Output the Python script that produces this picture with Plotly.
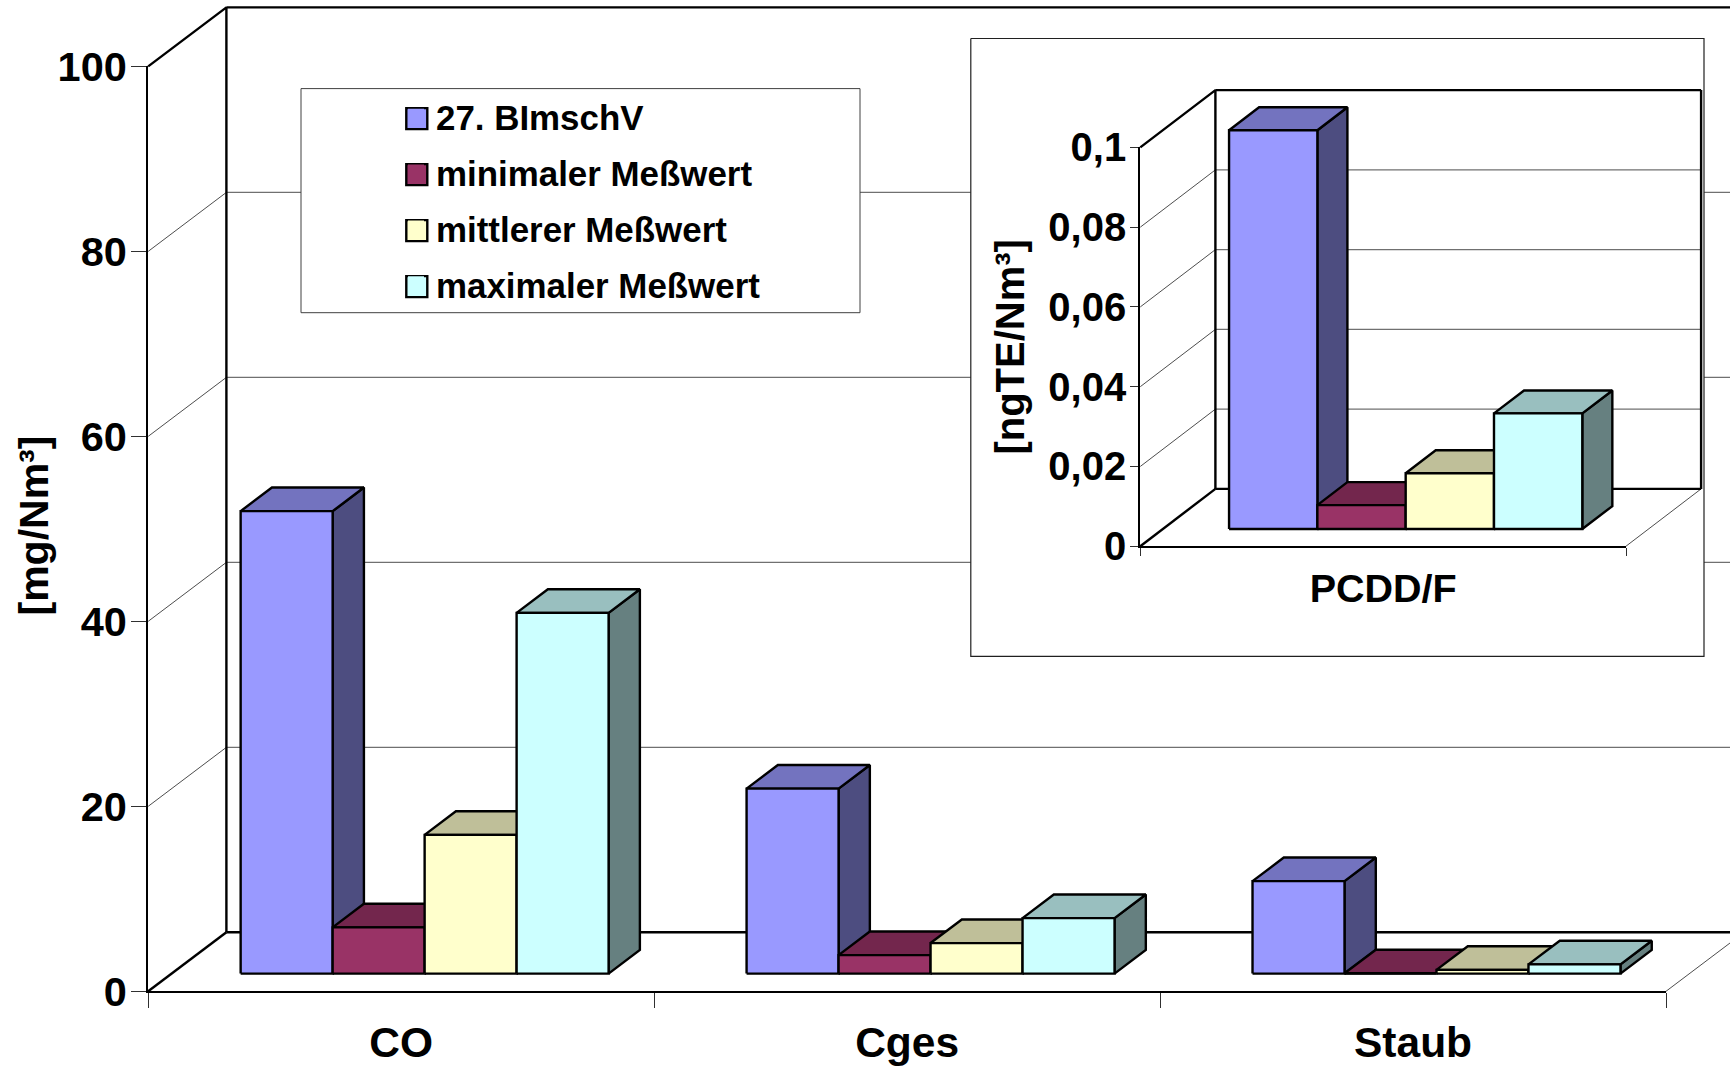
import plotly.graph_objects as go

# ---------- data ----------
categories = ["CO", "Cges", "Staub"]
series_names = ["27. BImschV", "minimaler Meßwert", "mittlerer Meßwert", "maximaler Meßwert"]
limit_values = [50, 20, 10]
min_values = [5, 2, 0.03]
mean_values = [15, 3.3, 0.4]
max_values = [39, 6, 1]
y_ticks = [0, 20, 40, 60, 80, 100]
y_title = "[mg/Nm³]"

inset_category = ["PCDD/F"]
inset_limit = [0.1]
inset_min = [0.006]
inset_mean = [0.014]
inset_max = [0.029]
inset_ticks = [0, 0.02, 0.04, 0.06, 0.08, 0.1]
inset_ticktext = ["0", "0,02", "0,04", "0,06", "0,08", "0,1"]
inset_y_title = "[ngTE/Nm³]"

front_colors = ["#9999FF", "#993366", "#FFFFCC", "#CCFFFF"]
top_colors = ["#7373BF", "#73264D", "#BFBF99", "#99BFBF"]
side_colors = ["#4D4D80", "#4D1A33", "#808066", "#668080"]

# ---------- layout geometry (pixels of the page) ----------
W, H = 1730, 1068
FONT = "Liberation Sans"
MAIN_X = (148.2, 1666.0)
MAIN_Y = (991.3, 66.4)
INS_X = (1140.3, 1626.0)
INS_Y = (546.2, 147.4)
GAP = 0.75          # gap each side of a group, in bar widths
DEPTH_START, DEPTH_LEN = 0.3, 0.4
main_sx, main_sy = (MAIN_X[1] - MAIN_X[0]) / 3, (MAIN_Y[0] - MAIN_Y[1]) / 100
ins_sx, ins_sy = (INS_X[1] - INS_X[0]) / 1, (INS_Y[0] - INS_Y[1]) / 0.1
main_dx, main_dy = 78.2 / main_sx, 59.0 / main_sy
ins_dx, ins_dy = 75.1 / ins_sx, 57.3 / ins_sy

fig = go.Figure()


def bar_traces(vals_by_series, dx, dy, xa, ya):
    """Oblique 3-D bars built from the values, in axis units."""
    n = len(vals_by_series)
    bw = 1 / (n + 2 * GAP)
    for s, vals in enumerate(vals_by_series):
        faces = {"side": ([], []), "top": ([], []), "front": ([], [])}
        for c, v in enumerate(vals):
            x0 = c + GAP * bw + s * bw + DEPTH_START * dx
            x1 = x0 + bw
            b = DEPTH_START * dy
            t = v + b
            ox, oy = DEPTH_LEN * dx, DEPTH_LEN * dy
            polys = {
                "front": ([x0, x1, x1, x0, x0], [b, b, t, t, b]),
                "top": ([x0, x1, x1 + ox, x0 + ox, x0], [t, t, t + oy, t + oy, t]),
                "side": ([x1, x1 + ox, x1 + ox, x1, x1], [b, b + oy, t + oy, t, b]),
            }
            for k, (px, py) in polys.items():
                faces[k][0].extend(px + [None])
                faces[k][1].extend(py + [None])
        cols = {"side": side_colors[s], "top": top_colors[s], "front": front_colors[s]}
        for k in ("side", "top", "front"):
            fig.add_trace(go.Scatter(
                x=faces[k][0], y=faces[k][1], mode="lines", fill="toself",
                fillcolor=cols[k], line=dict(color="black", width=2.4),
                xaxis=xa, yaxis=ya, hoverinfo="skip", showlegend=False))


def wall_traces(ticks, span, dx, dy, xa, ya, close_right):
    top = ticks[-1]
    gx, gy, hx, hy = [], [], [], []
    for v in ticks[1:-1]:
        gx += [0, dx, None]
        gy += [v, v + dy, None]
        hx += [dx, span + dx, None]
        hy += [v + dy, v + dy, None]
    gx += [span, span + dx, None]
    gy += [0, dy, None]
    fig.add_trace(go.Scatter(x=hx, y=hy, mode="lines", line=dict(color="#707070", width=1.2),
                             xaxis=xa, yaxis=ya, hoverinfo="skip", showlegend=False))
    fig.add_trace(go.Scatter(x=gx, y=gy, mode="lines", line=dict(color="#202020", width=0.8),
                             xaxis=xa, yaxis=ya, hoverinfo="skip", showlegend=False))
    ox = [0, dx, dx, None, dx, span + dx, None, 0, dx, None, dx, span + dx]
    oy = [top, top + dy, dy, None, top + dy, top + dy, None, 0, dy, None, dy, dy]
    if close_right:
        ox += [None, span + dx, span + dx]
        oy += [None, top + dy, dy]
    fig.add_trace(go.Scatter(x=ox, y=oy, mode="lines", line=dict(color="black", width=2.4),
                             xaxis=xa, yaxis=ya, hoverinfo="skip", showlegend=False))


def ins_xy(px, py):
    return ((px - INS_X[0]) / ins_sx, (INS_Y[0] - py) / ins_sy)


def box(x0, y0, x1, y1, color, width):
    a, b = ins_xy(x0, y0), ins_xy(x1, y1)
    fig.add_trace(go.Scatter(
        x=[a[0], b[0], b[0], a[0], a[0]], y=[a[1], a[1], b[1], b[1], a[1]],
        mode="lines", fill="toself", fillcolor="white", line=dict(color=color, width=width),
        xaxis="x3", yaxis="y3", hoverinfo="skip", showlegend=False))


# Subplot order sets the stacking:
#   x /y  = full-page drawing plane of the main chart (same scale as x2/y2)
#   x2/y2 = the visible main axes
#   x3/y3 = full-page drawing plane of the inset (same scale as x4/y4)
#   x4/y4 = the visible inset axes
for i, name in enumerate(series_names):
    fig.add_trace(go.Scatter(
        x=[None], y=[None], mode="markers", name=name, legendgroup=name,
        marker=dict(symbol="square", size=16, color=front_colors[i], line=dict(width=0)),
        xaxis="x", yaxis="y"))

wall_traces(y_ticks, 3, main_dx, main_dy, "x", "y", False)
bar_traces([limit_values, min_values, mean_values, max_values], main_dx, main_dy, "x", "y")
fig.add_trace(go.Scatter(x=[None], y=[None], xaxis="x2", yaxis="y2", showlegend=False, hoverinfo="skip"))

box(301, 88.6, 860, 312.7, "#404040", 1)          # legend frame
box(970.8, 38.5, 1704, 656.4, "#202020", 1.2)     # inset frame

# full-size legend swatches, under the smaller ones that the legend itself can draw
swatch = [ins_xy(416.8, 118.6 + 56 * i) for i in range(4)]
fig.add_trace(go.Scatter(
    x=[p[0] for p in swatch], y=[p[1] for p in swatch], mode="markers",
    marker=dict(symbol="square", size=21, color=front_colors, line=dict(color="black", width=2.4)),
    xaxis="x3", yaxis="y3", hoverinfo="skip", showlegend=False))

wall_traces(inset_ticks, 1, ins_dx, ins_dy, "x3", "y3", True)
bar_traces([inset_limit, inset_min, inset_mean, inset_max], ins_dx, ins_dy, "x3", "y3")
fig.add_trace(go.Scatter(x=[None], y=[None], xaxis="x4", yaxis="y4", showlegend=False, hoverinfo="skip"))

tick_font = dict(family=FONT, size=41.5, color="black", weight="bold")
cat_font = dict(family=FONT, size=42.5, color="black", weight="bold")
ins_font = dict(family=FONT, size=40, color="black", weight="bold")
ins_cat_font = dict(family=FONT, size=39.5, color="black", weight="bold")


def plane(ax_px0, scale):
    """Hidden full-page axis whose scale equals the visible axis."""
    return [(0 - ax_px0) / scale, (W - ax_px0) / scale]


def xaxis_dict(dom, rng, labels, ticklen, font, standoff, anchor):
    return dict(
        domain=[dom[0] / W, dom[1] / W], range=rng, showgrid=False, zeroline=False, automargin=False,
        showline=True, linecolor="black", linewidth=1.6, anchor=anchor,
        tickmode="array", tickvals=[i + 0.5 for i in range(len(labels))], ticktext=labels,
        ticks="", tickfont=font, ticklabelstandoff=standoff,
        minor=dict(tickmode="array", tickvals=list(range(len(labels) + 1)), ticks="outside",
                   ticklen=ticklen, tickwidth=1, tickcolor="#303030", showgrid=False),
    )


def yaxis_dict(dom, rng, vals, text, ticklen, font, tick_standoff, anchor):
    return dict(
        domain=[(H - dom[0]) / H, (H - dom[1]) / H], range=rng, showgrid=False, zeroline=False,
        automargin=False, showline=True, linecolor="black", linewidth=2.2, anchor=anchor,
        tickmode="array", tickvals=vals, ticktext=text, ticks="outside", ticklen=ticklen,
        tickwidth=1, tickcolor="#303030", tickfont=font, ticklabelstandoff=tick_standoff,
    )


def hidden(rng, anchor):
    return dict(domain=[0, 1], range=rng, visible=False, anchor=anchor, automargin=False)


yaxis4 = yaxis_dict(INS_Y, [0, 0.1], inset_ticks, inset_ticktext, 8, ins_font, -4, "x4")
yaxis4["title"] = dict(text=inset_y_title, standoff=11,
                       font=dict(family=FONT, size=40, color="black", weight="bold"))

fig.update_layout(
    template="none",
    width=W, height=H, margin=dict(l=0, r=0, t=0, b=0),
    paper_bgcolor="white", plot_bgcolor="rgba(0,0,0,0)",
    xaxis=hidden(plane(MAIN_X[0], main_sx), "y"),
    yaxis=hidden([(MAIN_Y[0] - H) / main_sy, MAIN_Y[0] / main_sy], "x"),
    xaxis2=xaxis_dict(MAIN_X, [0, 3], categories, 15, cat_font, 13, "y2"),
    yaxis2=yaxis_dict(MAIN_Y, [0, 100], y_ticks, [str(v) for v in y_ticks], 15, tick_font, -4, "x2"),
    xaxis3=hidden(plane(INS_X[0], ins_sx), "y3"),
    yaxis3=hidden([(INS_Y[0] - H) / ins_sy, INS_Y[0] / ins_sy], "x3"),
    xaxis4=xaxis_dict(INS_X, [0, 1], inset_category, 8, ins_cat_font, 7, "y4"),
    yaxis4=yaxis4,
    legend=dict(x=396 / W, y=1 - 87.5 / H, xanchor="left", yanchor="top", bgcolor="rgba(0,0,0,0)",
                borderwidth=0, font=dict(family=FONT, size=34.9, color="black", weight="bold"),
                tracegroupgap=7.5, itemclick=False, itemdoubleclick=False),
    showlegend=True,
    annotations=[dict(text=y_title, xref="paper", yref="paper", x=33.5 / W, y=1 - 526 / H,
                      xanchor="center", yanchor="middle", textangle=-90, showarrow=False,
                      font=dict(family=FONT, size=41, color="black", weight="bold"))],
)

fig.write_html("out.html", config=dict(displayModeBar=False),
               post_script="document.body.style.margin='0';")
